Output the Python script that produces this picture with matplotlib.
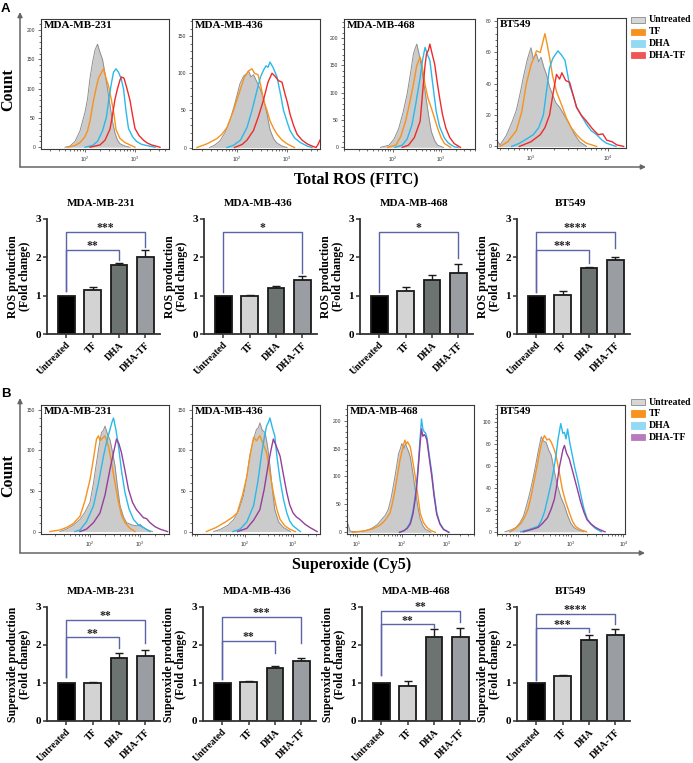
import numpy as np
import matplotlib
matplotlib.use("Agg")
import matplotlib.pyplot as plt
from matplotlib.patches import Rectangle, FancyArrowPatch
from matplotlib.ticker import LogLocator, NullFormatter, FixedLocator, AutoMinorLocator, LogFormatterSciNotation

W, H = 693, 763
fig = plt.figure(figsize=(W / 100, H / 100), dpi=100)
SERIF = ['Liberation Serif', 'DejaVu Serif']
SANS = ['Liberation Sans', 'DejaVu Sans']

# ---------------- data ----------------
conditions = ['Untreated', 'TF', 'DHA', 'DHA-TF']
cell_lines = ['MDA-MB-231', 'MDA-MB-436', 'MDA-MB-468', 'BT549']

# Panel A bars: ROS production (fold change)
ros_231 = [1.00, 1.15, 1.80, 2.02]
ros_231_err = [0.00, 0.08, 0.06, 0.18]
ros_436 = [1.00, 0.98, 1.19, 1.41]
ros_436_err = [0.00, 0.04, 0.07, 0.11]
ros_468 = [1.00, 1.13, 1.41, 1.60]
ros_468_err = [0.00, 0.09, 0.12, 0.23]
ros_549 = [1.00, 1.03, 1.71, 1.92]
ros_549_err = [0.00, 0.10, 0.05, 0.10]

# Panel B bars: superoxide production (fold change)
sox_231 = [1.00, 1.01, 1.66, 1.71]
sox_231_err = [0.00, 0.02, 0.14, 0.15]
sox_436 = [1.00, 1.03, 1.40, 1.58]
sox_436_err = [0.00, 0.02, 0.04, 0.09]
sox_468 = [1.00, 0.93, 2.21, 2.22]
sox_468_err = [0.00, 0.13, 0.22, 0.23]
sox_549 = [1.00, 1.18, 2.13, 2.26]
sox_549_err = [0.00, 0.02, 0.13, 0.17]

# significance: (group i, group j, bracket height, left leg end, right leg end, label)
sig_ros_231 = [(0, 2, 2.20, 1.12, 1.94, '**'), (0, 3, 2.66, 1.12, 2.28, '***')]
sig_ros_436 = [(0, 3, 2.66, 1.10, 1.58, '*')]
sig_ros_468 = [(0, 3, 2.66, 1.10, 1.98, '*')]
sig_ros_549 = [(0, 2, 2.19, 1.10, 1.85, '***'), (0, 3, 2.66, 1.10, 2.24, '****')]
sig_sox_231 = [(0, 2, 2.20, 1.15, 1.91, '**'), (0, 3, 2.67, 1.15, 2.04, '**')]
sig_sox_436 = [(0, 2, 2.11, 1.10, 1.80, '**'), (0, 3, 2.74, 1.10, 2.05, '***')]
sig_sox_468 = [(0, 2, 2.54, 1.20, 2.46, '**'), (0, 3, 2.90, 1.20, 2.60, '**')]
sig_sox_549 = [(0, 2, 2.44, 1.08, 2.34, '***'), (0, 3, 2.82, 1.08, 2.56, '****')]

# Histograms: (log10 fluorescence intensity, count)
# A: Total ROS (FITC)
A_231_untreated = [(1.6, 0), (1.7, 2), (1.8, 10), (1.9, 28), (2.0, 60), (2.05, 82), (2.1, 118), (2.15, 145),
                   (2.2, 166), (2.25, 176), (2.3, 162), (2.35, 150), (2.4, 126), (2.45, 100), (2.5, 72),
                   (2.55, 44), (2.6, 24), (2.65, 12), (2.7, 6), (2.8, 2), (2.9, 0)]
A_231_TF = [(1.65, 0), (1.8, 3), (1.9, 8), (2.0, 18), (2.05, 28), (2.1, 45), (2.17, 80), (2.22, 100),
            (2.27, 118), (2.32, 126), (2.37, 134), (2.42, 118), (2.47, 105), (2.52, 84), (2.57, 62),
            (2.62, 30), (2.7, 15), (2.8, 8), (2.9, 4), (3.0, 0)]
A_231_DHA = [(2.0, 0), (2.15, 3), (2.25, 10), (2.35, 28), (2.43, 52), (2.48, 85), (2.53, 110), (2.57, 128),
             (2.62, 134), (2.67, 128), (2.72, 118), (2.77, 100), (2.82, 62), (2.87, 32), (2.95, 18),
             (3.03, 10), (3.13, 5), (3.23, 3), (3.4, 0)]
A_231_DHATF = [(2.1, 0), (2.3, 4), (2.4, 12), (2.5, 31), (2.55, 55), (2.6, 82), (2.65, 100), (2.7, 115),
               (2.73, 120), (2.78, 118), (2.84, 100), (2.9, 80), (2.95, 55), (3.0, 32), (3.08, 20),
               (3.17, 12), (3.25, 7), (3.33, 4), (3.5, 0)]

A_436_untreated = [(1.45, 0), (1.55, 3), (1.66, 9), (1.76, 20), (1.86, 36), (1.96, 60), (2.06, 86),
                   (2.13, 96), (2.2, 100), (2.23, 103), (2.28, 95), (2.33, 98), (2.4, 88), (2.47, 78),
                   (2.53, 66), (2.6, 45), (2.66, 24), (2.73, 12), (2.8, 6), (2.9, 2), (3.0, 0)]
A_436_TF = [(1.2, 0), (1.4, 5), (1.6, 12), (1.7, 18), (1.8, 27), (1.93, 50), (2.06, 77), (2.15, 95),
            (2.23, 103), (2.3, 106), (2.35, 100), (2.42, 98), (2.48, 82), (2.53, 64), (2.6, 50),
            (2.66, 36), (2.73, 26), (2.8, 18), (2.9, 10), (3.0, 5), (3.15, 0)]
A_436_DHA = [(1.8, 0), (1.93, 3), (2.07, 10), (2.2, 27), (2.3, 50), (2.4, 77), (2.47, 95), (2.53, 104),
             (2.58, 110), (2.62, 108), (2.66, 115), (2.72, 108), (2.8, 95), (2.87, 72), (2.93, 50),
             (3.0, 35), (3.06, 23), (3.15, 13), (3.26, 7), (3.4, 2), (3.5, 0)]
A_436_DHATF = [(1.95, 0), (2.1, 4), (2.2, 10), (2.33, 23), (2.43, 42), (2.53, 64), (2.62, 88), (2.7, 100),
               (2.76, 96), (2.83, 90), (2.9, 88), (2.96, 72), (3.01, 60), (3.06, 45), (3.13, 30),
               (3.2, 18), (3.3, 10), (3.4, 5), (3.5, 2), (3.58, 0), (3.62, 4), (3.66, 10)]

A_468_untreated = [(1.75, 0), (1.93, 4), (2.03, 15), (2.13, 35), (2.22, 65), (2.3, 97), (2.37, 135),
                   (2.43, 171), (2.47, 182), (2.5, 189), (2.55, 170), (2.6, 146), (2.65, 115), (2.7, 85),
                   (2.75, 55), (2.8, 29), (2.87, 12), (2.93, 4), (3.05, 0)]
A_468_TF = [(1.9, 0), (2.07, 4), (2.17, 20), (2.27, 48), (2.35, 80), (2.43, 115), (2.5, 150), (2.57, 165),
            (2.6, 155), (2.67, 115), (2.73, 90), (2.8, 72), (2.87, 52), (2.93, 35), (3.0, 18),
            (3.07, 7), (3.2, 0)]
A_468_DHA = [(2.05, 0), (2.2, 4), (2.3, 15), (2.4, 41), (2.48, 80), (2.57, 128), (2.62, 160), (2.67, 183),
             (2.72, 170), (2.77, 159), (2.83, 115), (2.9, 66), (2.97, 38), (3.07, 17), (3.15, 8),
             (3.27, 1), (3.35, 0)]
A_468_DHATF = [(2.2, 0), (2.33, 4), (2.45, 18), (2.57, 48), (2.62, 100), (2.67, 150), (2.7, 171),
               (2.74, 178), (2.77, 189), (2.82, 170), (2.87, 152), (2.92, 120), (2.97, 91), (3.03, 60),
               (3.1, 35), (3.18, 18), (3.27, 7), (3.4, 0)]

A_549_untreated = [(2.56, 4), (2.6, 1), (2.68, 7), (2.75, 15), (2.81, 23), (2.86, 34), (2.9, 44),
                   (2.95, 55), (2.98, 60), (3.0, 63), (3.03, 56), (3.07, 59), (3.1, 54), (3.13, 57),
                   (3.17, 50), (3.2, 46), (3.24, 38), (3.28, 33), (3.32, 28), (3.37, 25), (3.43, 20),
                   (3.5, 14), (3.56, 8), (3.63, 3), (3.72, 0)]
A_549_TF = [(2.6, 0), (2.7, 3), (2.81, 10), (2.88, 22), (2.94, 40), (3.0, 52), (3.05, 58), (3.07, 61),
            (3.12, 60), (3.15, 66), (3.18, 72), (3.21, 65), (3.24, 57), (3.28, 45), (3.33, 35),
            (3.4, 26), (3.46, 18), (3.52, 12), (3.59, 7.5), (3.66, 4), (3.72, 2), (3.85, 0)]
A_549_DHA = [(2.75, 0), (2.85, 2), (2.95, 5), (3.03, 7.5), (3.1, 12), (3.16, 20), (3.2, 35), (3.24, 50),
             (3.28, 56), (3.32, 59), (3.35, 61), (3.4, 58), (3.44, 55), (3.47, 47), (3.5, 39),
             (3.55, 32), (3.59, 25), (3.66, 19), (3.72, 14), (3.78, 10), (3.85, 7.5), (3.92, 4),
             (3.98, 2), (4.1, 0)]
A_549_DHATF = [(2.85, 0), (3.0, 3), (3.12, 7.5), (3.18, 12), (3.24, 20), (3.29, 35), (3.33, 46),
               (3.37, 43), (3.4, 47), (3.45, 42), (3.5, 41), (3.55, 32), (3.59, 25), (3.65, 20),
               (3.72, 16), (3.8, 11), (3.87, 7.5), (3.93, 8), (3.98, 4), (4.05, 3), (4.11, 1), (4.2, 0)]

# B: Superoxide (Cy5)
B_231_untreated = [(1.4, 0), (1.53, 3), (1.67, 8), (1.8, 15), (1.9, 24), (2.0, 36), (2.07, 60), (2.13, 85),
                   (2.18, 105), (2.23, 122), (2.27, 125), (2.3, 130), (2.35, 120), (2.4, 113), (2.45, 98),
                   (2.5, 81), (2.55, 55), (2.6, 32), (2.67, 18), (2.73, 11), (2.85, 8), (2.93, 7),
                   (3.0, 9), (3.07, 5), (3.15, 2), (3.25, 0)]
B_231_TF = [(1.2, 0), (1.4, 2), (1.53, 5), (1.67, 10), (1.8, 19), (1.9, 38), (2.0, 64), (2.07, 90),
            (2.13, 114), (2.17, 118), (2.2, 112), (2.25, 115), (2.3, 118), (2.37, 105), (2.43, 85),
            (2.5, 60), (2.57, 36), (2.63, 20), (2.7, 11), (2.8, 4), (2.9, 0)]
B_231_DHA = [(1.7, 0), (1.8, 2), (1.93, 12), (2.07, 32), (2.17, 60), (2.27, 93), (2.33, 110), (2.4, 126),
             (2.44, 135), (2.47, 140), (2.52, 125), (2.57, 105), (2.63, 75), (2.7, 48), (2.78, 28),
             (2.87, 15), (2.97, 8), (3.07, 5), (3.2, 0)]
B_231_DHATF = [(1.8, 0), (1.93, 3), (2.07, 11), (2.2, 23), (2.3, 45), (2.4, 77), (2.47, 97), (2.53, 114),
               (2.58, 108), (2.63, 97), (2.7, 75), (2.77, 52), (2.85, 36), (2.93, 27), (3.0, 22),
               (3.07, 17), (3.13, 16), (3.2, 11), (3.3, 6), (3.4, 3), (3.55, 0)]

B_436_untreated = [(1.35, 0), (1.5, 3), (1.65, 8), (1.77, 15), (1.87, 26), (1.97, 44), (2.04, 68),
                   (2.1, 93), (2.17, 112), (2.24, 126), (2.28, 128), (2.31, 134), (2.36, 125), (2.42, 122),
                   (2.47, 105), (2.52, 81), (2.57, 52), (2.62, 27), (2.7, 12), (2.8, 5), (2.95, 0)]
B_436_TF = [(1.2, 0), (1.4, 5), (1.6, 12), (1.75, 18), (1.84, 23), (1.95, 45), (2.04, 68), (2.11, 95),
            (2.18, 116), (2.24, 112), (2.31, 118), (2.38, 108), (2.45, 97), (2.52, 72), (2.59, 48),
            (2.66, 28), (2.73, 15), (2.83, 7), (2.93, 3), (3.05, 0)]
B_436_DHA = [(1.75, 0), (1.9, 3), (2.04, 12), (2.18, 32), (2.27, 62), (2.35, 97), (2.4, 115), (2.45, 130),
             (2.49, 135), (2.52, 140), (2.57, 128), (2.62, 118), (2.67, 90), (2.73, 64), (2.8, 40),
             (2.87, 23), (2.93, 13), (3.0, 7), (3.15, 0)]
B_436_DHATF = [(1.85, 0), (2.04, 4), (2.18, 14), (2.31, 27), (2.4, 52), (2.48, 81), (2.54, 100),
               (2.59, 114), (2.66, 104), (2.73, 93), (2.8, 70), (2.87, 48), (2.93, 33), (3.0, 23),
               (3.07, 18), (3.14, 15), (3.25, 9), (3.35, 5), (3.5, 0)]

B_468_untreated = [(0.8, 15), (0.85, 2), (1.0, 1), (1.15, 2), (1.3, 6), (1.37, 9), (1.47, 15), (1.56, 24),
                   (1.63, 30), (1.7, 41), (1.76, 60), (1.81, 82), (1.87, 110), (1.93, 141), (1.97, 150),
                   (2.0, 159), (2.05, 150), (2.08, 158), (2.11, 153), (2.15, 145), (2.19, 135),
                   (2.25, 105), (2.3, 76), (2.36, 45), (2.41, 24), (2.47, 12), (2.52, 6), (2.65, 0)]
B_468_TF = [(0.9, 0), (1.2, 3), (1.37, 7), (1.5, 12), (1.59, 18), (1.67, 26), (1.74, 35), (1.8, 55),
            (1.85, 76), (1.91, 105), (1.96, 129), (2.02, 150), (2.05, 160), (2.07, 165), (2.1, 158),
            (2.13, 162), (2.19, 153), (2.25, 125), (2.3, 100), (2.36, 65), (2.41, 35), (2.48, 18),
            (2.56, 9), (2.65, 3), (2.75, 0)]
B_468_DHA = [(1.95, 0), (2.05, 3), (2.12, 8), (2.19, 18), (2.25, 38), (2.3, 65), (2.34, 95), (2.37, 123),
             (2.41, 170), (2.44, 203), (2.47, 185), (2.5, 180), (2.53, 178), (2.56, 170), (2.61, 140),
             (2.67, 106), (2.72, 70), (2.78, 35), (2.85, 16), (2.93, 6), (3.05, 0)]
B_468_DHATF = [(1.95, 0), (2.05, 3), (2.12, 7), (2.19, 15), (2.25, 33), (2.3, 59), (2.34, 88), (2.37, 118),
               (2.41, 160), (2.44, 185), (2.47, 172), (2.5, 175), (2.53, 172), (2.56, 165), (2.61, 135),
               (2.67, 100), (2.72, 65), (2.78, 32), (2.85, 15), (2.93, 5), (3.05, 0)]

B_549_untreated = [(1.75, 0), (1.88, 2), (1.96, 4), (2.03, 8), (2.1, 14), (2.16, 24), (2.22, 35),
                   (2.28, 48), (2.33, 60), (2.38, 73), (2.41, 80), (2.44, 87), (2.48, 83), (2.53, 82),
                   (2.58, 75), (2.63, 70), (2.69, 55), (2.75, 42), (2.81, 32), (2.88, 24), (2.94, 15),
                   (3.0, 8), (3.06, 4), (3.13, 2), (3.25, 0)]
B_549_TF = [(1.85, 0), (1.95, 3), (2.06, 8), (2.13, 14), (2.19, 21), (2.25, 33), (2.31, 48), (2.36, 60),
            (2.41, 73), (2.45, 82), (2.5, 88), (2.55, 84), (2.59, 85), (2.63, 82), (2.68, 76),
            (2.72, 70), (2.78, 55), (2.84, 39), (2.9, 28), (2.97, 18), (3.03, 10), (3.09, 5),
            (3.18, 2), (3.3, 0)]
B_549_DHA = [(2.05, 0), (2.2, 2), (2.38, 5), (2.44, 10), (2.5, 18), (2.56, 30), (2.63, 45), (2.68, 58),
             (2.72, 70), (2.76, 85), (2.81, 99), (2.85, 90), (2.88, 91), (2.91, 85), (2.94, 94),
             (2.98, 82), (3.03, 70), (3.08, 58), (3.13, 48), (3.19, 34), (3.25, 21), (3.31, 12),
             (3.38, 7), (3.47, 3), (3.58, 0)]
B_549_DHATF = [(2.1, 0), (2.25, 2), (2.38, 4), (2.47, 8), (2.56, 13), (2.63, 21), (2.69, 30), (2.74, 44),
               (2.78, 58), (2.83, 70), (2.85, 75), (2.88, 79), (2.92, 72), (2.97, 67), (3.01, 60),
               (3.06, 51), (3.12, 40), (3.19, 27), (3.25, 18), (3.31, 11), (3.39, 7), (3.47, 4),
               (3.55, 2), (3.65, 0)]

# histogram axis ranges (log10 intensity), labelled decades, count ranges / ticks
A_xlims = [(1.12, 3.68), (1.10, 3.66), (1.00, 3.70), (2.56, 4.23)]
A_xdecades = [[2, 3], [2, 3], [2, 3], [3, 4]]
A_ylims = [(-3, 219), (-2, 173), (-3, 235), (-1, 82)]
A_yticks = [[0, 50, 100, 150, 200], [0, 50, 100, 150], [0, 50, 100, 150, 200], [0, 20, 40, 60, 80]]
B_xlims = [(1.02, 3.58), (0.90, 3.56), (0.78, 3.61), (1.60, 4.03)]
B_xdecades = [[2, 3], [2, 3], [1, 2, 3], [2, 3, 4]]
B_ylims = [(-3, 156), (-3, 156), (-3, 228), (-2, 116)]
B_yticks = [[0, 50, 100, 150], [0, 50, 100, 150], [0, 50, 100, 150, 200], [0, 20, 40, 60, 80, 100]]

# ---------------- styles ----------------
GRAY_FILL, GRAY_EDGE = '#cbcbcb', '#8f8f8f'
ORANGE, CYAN, RED, PURPLE = '#f7921e', '#2bb8ea', '#ee2b2b', '#943f9c'
BAR_COLORS = ['#000000', '#d3d3d3', '#6d7371', '#9a9da2']
BRACKET = '#5a64a6'
FRAME = '#666666'


def ax_px(x0, y0, x1, y1):
    return fig.add_axes([x0 / W, 1 - y1 / H, (x1 - x0) / W, (y1 - y0) / H])


def draw_hist(box, curves, line_colors, xlim, decades, ylim, yticks, name):
    ax = ax_px(*box)
    unt = curves[0]
    xs = 10 ** np.array([p[0] for p in unt])
    ys = np.array([p[1] for p in unt])
    ax.fill_between(xs, ys, 0, color=GRAY_FILL, lw=0, zorder=1)
    ax.plot(xs, ys, color=GRAY_EDGE, lw=0.7, zorder=2)
    for c, col in zip(curves[1:], line_colors):
        xs = 10 ** np.array([p[0] for p in c])
        ys = np.array([p[1] for p in c])
        ax.plot(xs, ys, color=col, lw=1.0, zorder=3)
    ax.set_xscale('log')
    ax.set_xlim(10 ** xlim[0], 10 ** xlim[1])
    ax.set_ylim(*ylim)
    ax.yaxis.set_major_locator(FixedLocator(yticks))
    ax.yaxis.set_minor_locator(AutoMinorLocator(5))
    ax.xaxis.set_major_locator(FixedLocator([10.0 ** d for d in decades]))
    ax.xaxis.set_major_formatter(LogFormatterSciNotation())
    ax.xaxis.set_minor_locator(LogLocator(base=10, subs=np.arange(1, 10)))
    ax.xaxis.set_minor_formatter(NullFormatter())
    ax.tick_params(which='major', length=2.5, width=0.5, labelsize=3.6, colors='#333333', pad=1.5)
    ax.tick_params(which='minor', length=1.3, width=0.4)
    for lab in ax.get_xticklabels() + ax.get_yticklabels():
        lab.set_fontfamily(SANS)
    for s in ax.spines.values():
        s.set_color('#3a3a3a')
        s.set_linewidth(0.8)
    ax.text(0.02, 0.985, name, transform=ax.transAxes, ha='left', va='top',
            fontsize=8, fontweight='bold', family=SERIF, zorder=5)
    return ax


def draw_bars(x0, top, bottom, means, errs, sigs, ylabel, title):
    ax = ax_px(x0, top, x0 + 113, bottom)
    xs = np.arange(len(conditions))
    ax.bar(xs, means, width=0.64, color=BAR_COLORS, edgecolor='#1a1a1a', linewidth=1.3, zorder=2)
    up = np.array(errs)
    mask = up > 0
    ax.errorbar(xs[mask], np.array(means)[mask], yerr=[np.zeros(mask.sum()), up[mask]], fmt='none',
                ecolor='#1a1a1a', elinewidth=1.0, capsize=3, capthick=1.0, zorder=1)
    ax.set_xlim(-0.72, 3.55)
    ax.set_ylim(0, 3)
    ax.set_yticks([0, 1, 2, 3])
    ax.set_xticks(xs)
    ax.set_xticklabels(conditions, rotation=45, ha='right', rotation_mode='anchor')
    for lab in ax.get_xticklabels():
        lab.set_fontfamily(SERIF)
        lab.set_fontweight('bold')
        lab.set_fontsize(7)
    for lab in ax.get_yticklabels():
        lab.set_fontfamily(SERIF)
        lab.set_fontweight('bold')
        lab.set_fontsize(8)
    ax.tick_params(length=3, width=1.1, color='#333333', pad=1.5)
    for s in ['top', 'right']:
        ax.spines[s].set_visible(False)
    for s in ['left', 'bottom']:
        ax.spines[s].set_linewidth(1.3)
        ax.spines[s].set_color('#333333')
    ax.set_ylabel(ylabel, fontsize=8.5, fontweight='bold', family=SERIF, linespacing=1.0, labelpad=3)
    for (i, j, yb, lb, rb, lab) in sigs:
        ax.plot([i, i, j, j], [lb, yb, yb, rb], color=BRACKET, lw=1.0, clip_on=False, zorder=3)
        ax.text((i + j) / 2, yb - 0.06, lab, ha='center', va='bottom', fontsize=8.5,
                fontweight='bold', family=SERIF, color='#222222')
    bb = ax.get_position()
    fig.text(bb.x0 + bb.width / 2 - 0.004, 1 - (top - 16) / H, title, ha='center', va='center',
             fontsize=8, fontweight='bold', family=SERIF)
    return ax


def frame(corner_x, corner_y, top_y, right_x):
    for p0, p1 in [((corner_x, corner_y), (corner_x, top_y)), ((corner_x, corner_y), (right_x, corner_y))]:
        arr = FancyArrowPatch((p0[0] / W, 1 - p0[1] / H), (p1[0] / W, 1 - p1[1] / H),
                              transform=fig.transFigure, arrowstyle='-|>', mutation_scale=7,
                              lw=1.1, color=FRAME, shrinkA=0, shrinkB=0)
        fig.add_artist(arr)


def legend(x, y0, labels, colors, edges):
    for k, (lab, c, e) in enumerate(zip(labels, colors, edges)):
        yy = y0 + k * 11.7
        fig.add_artist(Rectangle((x / W, 1 - (yy + 3.2) / H), 14 / W, 6.4 / H, transform=fig.transFigure,
                                 facecolor=c, edgecolor=e, lw=0.6))
        fig.text((x + 18) / W, 1 - yy / H, lab, ha='left', va='center', fontsize=7.0,
                 fontweight='bold', family=SERIF)


# ---------------- panel A ----------------
fig.text(1 / W, 1 - 3 / H, 'A', ha='left', va='top', fontsize=9.5, fontweight='bold', family=SANS)
frame(20, 167, 12, 646)
fig.text(8 / W, 1 - 90 / H, 'Count', rotation=90, ha='center', va='center', fontsize=11.5,
         fontweight='bold', family=SERIF)
fig.text(356 / W, 1 - 179 / H, 'Total ROS (FITC)', ha='center', va='center', fontsize=11.5,
         fontweight='bold', family=SERIF)

A_hist_boxes = [(41, 19, 169, 149), (192, 19, 320, 149), (344, 19, 475, 149), (497, 18, 626, 148)]
A_curves = [
    [A_231_untreated, A_231_TF, A_231_DHA, A_231_DHATF],
    [A_436_untreated, A_436_TF, A_436_DHA, A_436_DHATF],
    [A_468_untreated, A_468_TF, A_468_DHA, A_468_DHATF],
    [A_549_untreated, A_549_TF, A_549_DHA, A_549_DHATF],
]
for k in range(4):
    draw_hist(A_hist_boxes[k], A_curves[k], [ORANGE, CYAN, RED], A_xlims[k], A_xdecades[k], A_ylims[k],
              A_yticks[k], cell_lines[k])
legend(631, 20, conditions, ['#d6d6d6', ORANGE, '#92d9f3', '#ef5757'], ['#8a8a8a', ORANGE, '#92d9f3', '#ef5757'])

A_bar_x = [47, 204, 360, 517]
ros_means = [ros_231, ros_436, ros_468, ros_549]
ros_errs = [ros_231_err, ros_436_err, ros_468_err, ros_549_err]
ros_sigs = [sig_ros_231, sig_ros_436, sig_ros_468, sig_ros_549]
for k in range(4):
    draw_bars(A_bar_x[k], 219, 334, ros_means[k], ros_errs[k], ros_sigs[k],
              'ROS production\n(Fold change)', cell_lines[k])

# ---------------- panel B ----------------
fig.text(1 / W, 1 - 388 / H, 'B', ha='left', va='top', fontsize=9.5, fontweight='bold', family=SANS)
frame(20, 553, 398, 645)
fig.text(8 / W, 1 - 476 / H, 'Count', rotation=90, ha='center', va='center', fontsize=11.5,
         fontweight='bold', family=SERIF)
fig.text(352 / W, 1 - 565 / H, 'Superoxide (Cy5)', ha='center', va='center', fontsize=11.5,
         fontweight='bold', family=SERIF)

B_hist_boxes = [(41, 405, 169, 534), (192, 405, 320, 534), (347, 405, 474, 534), (497, 405, 625, 534)]
B_curves = [
    [B_231_untreated, B_231_TF, B_231_DHA, B_231_DHATF],
    [B_436_untreated, B_436_TF, B_436_DHA, B_436_DHATF],
    [B_468_untreated, B_468_TF, B_468_DHA, B_468_DHATF],
    [B_549_untreated, B_549_TF, B_549_DHA, B_549_DHATF],
]
for k in range(4):
    draw_hist(B_hist_boxes[k], B_curves[k], [ORANGE, CYAN, PURPLE], B_xlims[k], B_xdecades[k], B_ylims[k],
              B_yticks[k], cell_lines[k])
legend(631, 402, conditions, ['#d6d6d6', ORANGE, '#92d9f3', '#b97bbd'], ['#8a8a8a', ORANGE, '#92d9f3', '#b97bbd'])

B_bar_x = [47, 203, 362, 517]
sox_means = [sox_231, sox_436, sox_468, sox_549]
sox_errs = [sox_231_err, sox_436_err, sox_468_err, sox_549_err]
sox_sigs = [sig_sox_231, sig_sox_436, sig_sox_468, sig_sox_549]
for k in range(4):
    draw_bars(B_bar_x[k], 607, 721, sox_means[k], sox_errs[k], sox_sigs[k],
              'Superoxide production\n(Fold change)', cell_lines[k])

fig.savefig('out.png', dpi=100)
